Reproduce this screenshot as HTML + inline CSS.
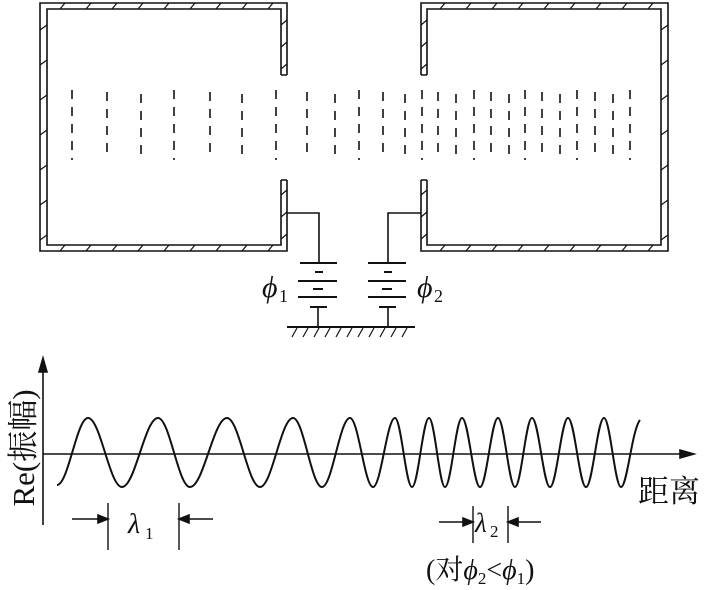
<!DOCTYPE html>
<html><head><meta charset="utf-8">
<style>
html,body{margin:0;padding:0;background:#fff;}
svg{display:block;}
text{font-family:"Liberation Serif","Noto Serif CJK SC",serif;fill:#111;}
</style></head>
<body>
<svg width="704" height="590" viewBox="0 0 704 590" xmlns="http://www.w3.org/2000/svg">
<g stroke="#111" fill="none" stroke-width="1.6">
  <path d="M287,75 L287,3 L40,3 L40,251 L287,251 L287,180"/>
  <path d="M281,75 L281,9 L47,9 L47,245 L281,245 L281,180"/>
  <path d="M421,75 L421,3 L668,3 L668,251 L421,251 L421,180"/>
  <path d="M427,75 L427,9 L661,9 L661,245 L427,245 L427,180"/>
  <path d="M281,75 L287,75 M281,180 L287,180 M421,75 L427,75 M421,180 L427,180"/>
  <path stroke-width="1.2" d="M60,9 l5,-6 M86,9 l5,-6 M112,9 l5,-6 M138,9 l5,-6 M164,9 l5,-6 M190,9 l5,-6 M216,9 l5,-6 M242,9 l5,-6 M268,9 l5,-6
  M60,251 l5,-6 M86,251 l5,-6 M112,251 l5,-6 M138,251 l5,-6 M164,251 l5,-6 M190,251 l5,-6 M216,251 l5,-6 M242,251 l5,-6 M268,251 l5,-6
  M440,9 l5,-6 M466,9 l5,-6 M492,9 l5,-6 M518,9 l5,-6 M544,9 l5,-6 M570,9 l5,-6 M596,9 l5,-6 M622,9 l5,-6 M648,9 l5,-6
  M440,251 l5,-6 M466,251 l5,-6 M492,251 l5,-6 M518,251 l5,-6 M544,251 l5,-6 M570,251 l5,-6 M596,251 l5,-6 M622,251 l5,-6 M648,251 l5,-6
  M40,30 l7,-5 M40,65 l7,-5 M40,100 l7,-5 M40,135 l7,-5 M40,170 l7,-5 M40,205 l7,-5 M40,240 l7,-5
  M661,30 l7,-5 M661,65 l7,-5 M661,100 l7,-5 M661,135 l7,-5 M661,170 l7,-5 M661,205 l7,-5 M661,240 l7,-5
  M281,25 l6,-5 M281,47 l6,-5 M281,69 l6,-5 M281,195 l6,-5 M281,217 l6,-5 M281,239 l6,-5
  M421,25 l6,-5 M421,47 l6,-5 M421,69 l6,-5 M421,195 l6,-5 M421,217 l6,-5 M421,239 l6,-5"/>
  <path d="M287,213 L319,213 L319,263"/>
  <path d="M421,213 L388,213 L388,263"/>
  <g stroke-width="2">
    <path d="M300,263 H337 M298,281 H337 M298,297 H337"/>
    <path d="M315,272 H323 M313,289 H323 M310,307 H327"/>
    <path d="M368,263 H406 M368,281 H406 M368,297 H406"/>
    <path d="M384,272 H392 M382,289 H392 M379,307 H396"/>
  </g>
  <path d="M318,307 V327 M388,307 V327"/>
  <path d="M287,327 H415" stroke-width="2"/>
  <path stroke-width="1.2" d="M292,337 l5,-9 M303,337 l5,-9 M314,337 l5,-9 M325,337 l5,-9 M336,337 l5,-9 M347,337 l5,-9 M358,337 l5,-9 M369,337 l5,-9 M380,337 l5,-9 M391,337 l5,-9 M402,337 l5,-9"/>
  <path stroke-width="1.6" stroke-dasharray="9 8" d="M72,90V160 M107,92V160 M141,94V160 M174,90V160 M210,92V160 M242,94V160 M276,90V160 M307,92V160 M335,94V160 M359,90V160 M383,92V160 M405,94V160 M422,90V160 M438,92V160 M456,94V160 M474,90V160 M491,92V160 M509,94V160 M525,90V160 M542,92V160 M560,94V160 M577,90V160 M595,92V160 M613,94V160 M630,90V160"/>
  <path d="M43,525 V368"/>
  <path d="M43,358 L39,372 L47,372 Z" fill="#111"/>
  <path d="M43,454 H684"/>
  <path d="M694,454 L680,450 L680,458 Z" fill="#111"/>
  <path stroke-width="2" d="M57,485 C68.3,485 76.7,418 88,418 C100.4,418 109.6,487 122,487 C135.1,487 144.9,418 158,418 C169.7,418 178.3,487 190,487 C203.5,487 213.5,418 227,418 C239,418 248,487 260,487 C272,487 281,418 293,418 C303.6,418 311.4,487 322,487 C332.2,487 339.8,418 350,418 C358.4,418 364.6,487 373,487 C381,487 387,418 395,418 C401.2,418 405.8,487 412,487 C418.2,487 422.8,418 429,418 C434.8,418 439.2,487 445,487 C451.2,487 455.8,418 462,418 C468.6,418 473.4,487 480,487 C486.6,487 491.4,418 498,418 C504.2,418 508.8,487 515,487 C521.2,487 525.8,418 532,418 C538.6,418 543.4,487 550,487 C556.6,487 561.4,418 568,418 C574.6,418 579.4,487 586,487 C592.6,487 597.4,418 604,418 C610.2,418 614.8,487 621,487 C627.2,487 631.8,430 640,420"/>
  <path d="M108,503 V550 M179,503 V550 M473,506 V543 M508,506 V543" stroke-width="1.4"/>
  <path d="M72,519 H100 M213,519 H187 M439,522 H465 M541,522 H516"/>
  <path d="M108,519 L98,515 L98,523 Z M179,519 L189,515 L189,523 Z M473,522 L463,518 L463,526 Z M508,522 L518,518 L518,526 Z" fill="#111"/>
</g>
<text x="262" y="297" font-size="30" font-style="italic">ϕ</text>
<text x="279" y="302" font-size="18">1</text>
<text x="417" y="297" font-size="30" font-style="italic">ϕ</text>
<text x="434" y="302" font-size="18">2</text>
<text transform="translate(34,448) rotate(-90)" font-size="31" text-anchor="middle">Re(振幅)</text>
<text x="638" y="502" font-size="31" font-family="Liberation Sans,Noto Sans CJK SC,sans-serif">距离</text>
<text x="128" y="533" font-size="28" font-style="italic">λ</text>
<text x="145" y="539" font-size="17">1</text>
<text x="475" y="532" font-size="27" font-style="italic">λ</text>
<text x="490" y="537" font-size="17">2</text>
<text x="426" y="579" font-size="28">(对<tspan font-style="italic">ϕ</tspan><tspan font-size="17" dy="5">2</tspan><tspan dy="-5">&lt;</tspan><tspan font-style="italic">ϕ</tspan><tspan font-size="17" dy="5">1</tspan><tspan dy="-5">)</tspan></text>
</svg>
</body></html>
